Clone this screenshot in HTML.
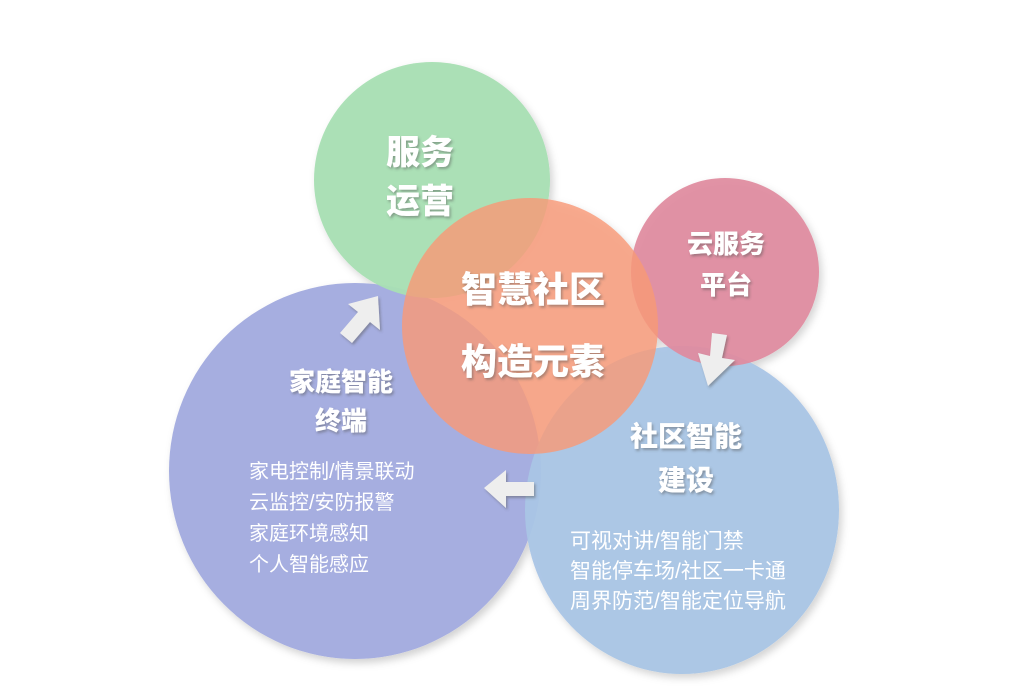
<!DOCTYPE html>
<html><head><meta charset="utf-8"><style>
html,body{margin:0;padding:0;background:#fff;}
svg text{font-family:"Liberation Sans","Noto Sans CJK SC",sans-serif;fill:#fff;}
.b{font-weight:900;}
</style></head><body>
<svg width="1024" height="691" viewBox="0 0 1024 691" xmlns="http://www.w3.org/2000/svg">
<defs>
<filter id="sh" x="-20%" y="-20%" width="140%" height="140%"><feDropShadow dx="3" dy="4" stdDeviation="4" flood-color="#000" flood-opacity="0.18"/></filter>
<filter id="ts"><feDropShadow dx="1.5" dy="2" stdDeviation="1.2" flood-color="#555" flood-opacity="0.45"/></filter>
</defs>
<g filter="url(#sh)">
<ellipse cx="355" cy="471" rx="186" ry="188" fill="#a6aee0"/>
<ellipse cx="682" cy="510" rx="157" ry="164" fill="#a9c5e5" opacity="0.95"/>
<circle cx="432" cy="180" r="118" fill="#a8dfb3" opacity="0.95"/>
<circle cx="725" cy="272" r="94" fill="#e08a9e" opacity="0.92"/>
<circle cx="530" cy="326" r="128" fill="#f89a78" opacity="0.82"/>
</g>
<g fill="#eeeeee" filter="url(#ts)">
<polygon points="378,296 380,330 370,322 352,343 340,333 358,312 348,304"/>
<polygon points="712,333 727,335 722,358 735,360 708,386 698,353 710,356"/>
<polygon points="484,488 506,470 506,482 534,482 534,496 506,496 506,508"/>
</g>
<g class="b" filter="url(#ts)">
<text x="420" y="164" font-size="34" text-anchor="middle">服务</text>
<text x="420" y="213" font-size="34" text-anchor="middle">运营</text>
<text x="533" y="302" font-size="36" text-anchor="middle">智慧社区</text>
<text x="533" y="374" font-size="36" text-anchor="middle">构造元素</text>
<text x="726" y="253" font-size="26" text-anchor="middle">云服务</text>
<text x="726" y="294" font-size="26" text-anchor="middle">平台</text>
<text x="341" y="391" font-size="26" text-anchor="middle">家庭智能</text>
<text x="341" y="430" font-size="26" text-anchor="middle">终端</text>
<text x="686" y="446" font-size="28" text-anchor="middle">社区智能</text>
<text x="686" y="490" font-size="28" text-anchor="middle">建设</text>
</g>
<g font-size="20">
<text x="249" y="478">家电控制/情景联动</text>
<text x="249" y="509">云监控/安防报警</text>
<text x="249" y="540">家庭环境感知</text>
<text x="249" y="571">个人智能感应</text>
</g>
<g font-size="21">
<text x="570" y="548">可视对讲/智能门禁</text>
<text x="570" y="578">智能停车场/社区一卡通</text>
<text x="570" y="608">周界防范/智能定位导航</text>
</g>
</svg>
</body></html>
